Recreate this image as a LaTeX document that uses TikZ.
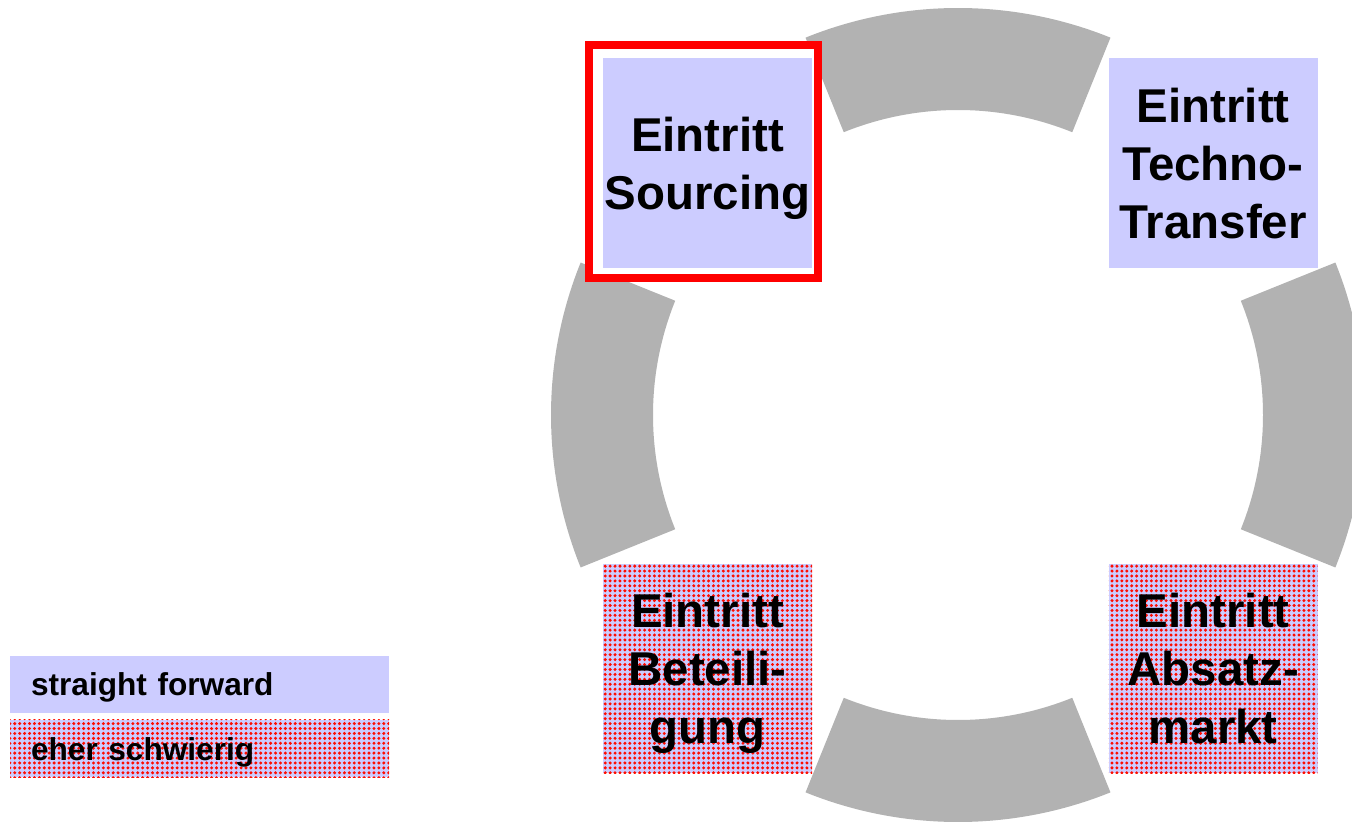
\documentclass[tikz,border=0pt]{standalone}
\usepackage{fontspec}
\setmainfont{Liberation Sans}
\usepackage{tikz}
\usetikzlibrary{
    calc,
    patterns,
    positioning
}
\definecolor{easyblue}{HTML}{CCCCFF}
\definecolor{ringgray}{HTML}{B2B2B2}
\pgfdeclarepatternformonly{reddots}{\pgfqpoint{-1.2pt}{-1.2pt}}{\pgfqpoint{1.2pt}{1.2pt}}{\pgfqpoint{2.8pt}{2.8pt}}{
    \pgfpathcircle{\pgfqpoint{0pt}{0pt}}{0.95pt}
    \pgfusepath{fill}
}
\tikzset{
    entrybox/.style={minimum width=4.18cm, minimum height=4.18cm, inner sep=0pt, text depth=0pt,
        align=center, font=\fontsize{27}{33}\selectfont\bfseries},
    easyfill/.style={fill=easyblue},
    hardfill/.style={preaction={fill=easyblue}, pattern=reddots, pattern color=red!90!orange},
    legendbox/.style={minimum width=7.58cm, minimum height=1.15cm, inner xsep=0.42cm,
        inner ysep=0pt, text width=6.74cm, text depth=0pt, align=left,
        font=\fontsize{18}{22}\selectfont\bfseries}
}

\begin{document}
\begin{tikzpicture}
    \useasboundingbox (0, 0) rectangle (27.04, 16.44);
    % ring of four segments
    \coordinate (c) at (19.16, 8.14);
    \foreach \a in {0, 90, 180, 270} {
        \fill[ringgray] ($(c) + (\a - 22:8.14)$) arc[start angle=\a - 22, end angle=\a + 22, radius=8.14]
            -- ($(c) + (\a + 22:6.1)$) arc[start angle=\a + 22, end angle=\a - 22, radius=6.1] -- cycle;
    }
    % highlight frame
    \node[draw=red, fill=white, line width=0.16cm, minimum width=4.58cm, minimum height=4.66cm] (frame) at (14.07, 13.21) {};
    % entry modes
    \node[entrybox, easyfill] (sourcing) at (14.15, 13.18) {Eintritt\\Sourcing};
    \node[entrybox, easyfill] (techno) [right=5.92cm of sourcing] {Eintritt\\Techno-\\Transfer};
    \node[entrybox, hardfill] (beteiligung) [below=5.92cm of sourcing] {Eintritt\\Beteili-\\gung};
    \node[entrybox, hardfill] (absatz) [below=5.92cm of techno] {Eintritt\\Absatz-\\markt};
    % legend
    \node[legendbox, easyfill] (legeasy) at (3.99, 2.75) {straight forward};
    \node[legendbox, hardfill] (leghard) [below=0.12cm of legeasy] {eher schwierig};
\end{tikzpicture}
\end{document}
